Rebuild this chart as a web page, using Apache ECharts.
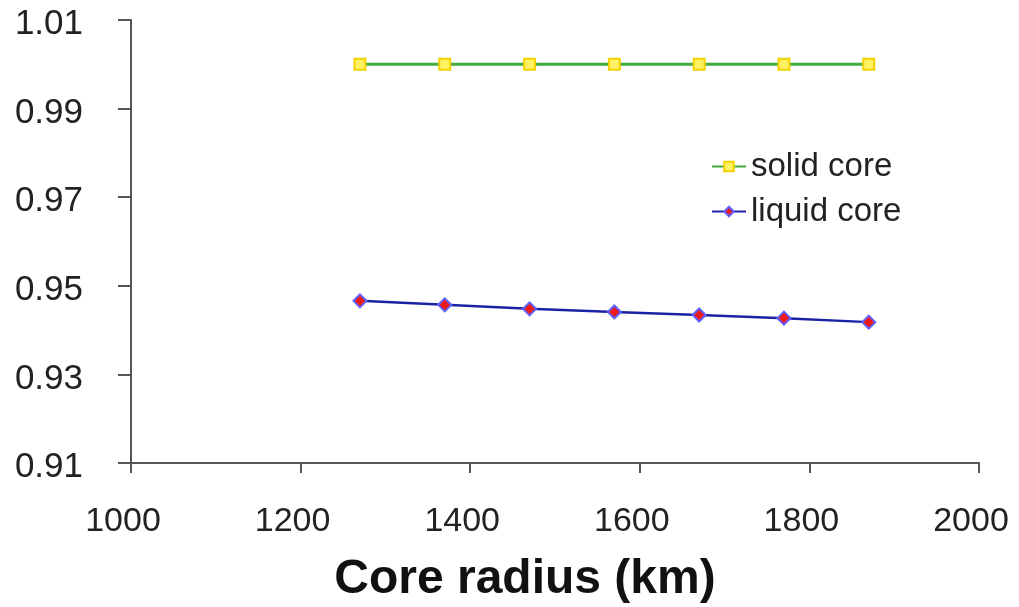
<!DOCTYPE html>
<html><head><meta charset="utf-8">
<script src="https://cdn.jsdelivr.net/npm/echarts@6/dist/echarts.min.js"></script>
<style>html,body{margin:0;padding:0;background:#fff}#c{width:1019px;height:607px}</style>
</head><body><div id="c"></div>
<script>
const radius = [1270, 1370, 1470, 1570, 1670, 1770, 1870];
const solidCore = [1.000, 1.000, 1.000, 1.000, 1.000, 1.000, 1.000];
const liquidCore = [0.9466, 0.9457, 0.9448, 0.9441, 0.9434, 0.9427, 0.9418];
const xTitle = 'Core radius (km)';

const chart = echarts.init(document.getElementById('c'));
const font = 'Liberation Sans, Arial, sans-serif';
chart.setOption({
  animation: false,
  grid: {left: 131, right: 40, top: 20, bottom: 144},
  graphic: [{
    type: 'text', x: 525, y: 556,
    style: {text: xTitle, font: 'bold 48px ' + font, fill: '#111', textAlign: 'center', textVerticalAlign: 'top'}
  }],
  legend: {
    left: 706, top: 145, orient: 'vertical', itemGap: 12,
    itemWidth: 34, itemHeight: 12,
    textStyle: {fontFamily: font, fontSize: 33, color: '#222', padding: [0, 0, 0, 0]},
    data: ['solid core', 'liquid core']
  },
  xAxis: {
    type: 'value', min: 1000, max: 2000, interval: 200,
    axisLine: {onZero: false, lineStyle: {color: '#555', width: 2}},
    axisTick: {show: true, length: 10, lineStyle: {color: '#555', width: 2}},
    axisLabel: {fontFamily: font, fontSize: 34, color: '#222', margin: 42,
      padding: [0, 16, 0, 0], formatter: v => String(v)},
    splitLine: {show: false}
  },
  yAxis: {
    type: 'value', min: 0.91, max: 1.01, interval: 0.02,
    axisLine: {show: true, lineStyle: {color: '#555', width: 2}},
    axisTick: {show: true, length: 13, lineStyle: {color: '#555', width: 2}},
    axisLabel: {fontFamily: font, fontSize: 35, color: '#222', margin: 48,
      formatter: v => '{a|' + v.toFixed(2) + '}',
      rich: {a: {fontFamily: font, fontSize: 35, color: '#222', padding: [9, 0, 0, 0]}}},
    splitLine: {show: false}
  },
  series: [
    {
      name: 'solid core', type: 'line',
      data: radius.map((x, i) => [x, solidCore[i]]),
      lineStyle: {color: '#3fa83f', width: 3},
      itemStyle: {color: '#fff064', borderColor: '#f2d200', borderWidth: 2},
      symbol: 'rect', symbolSize: 11, showAllSymbol: true
    },
    {
      name: 'liquid core', type: 'line',
      data: radius.map((x, i) => [x, liquidCore[i]]),
      lineStyle: {color: '#1c22a6', width: 2.5},
      itemStyle: {color: '#ee1a1a', borderColor: '#6060ff', borderWidth: 2},
      symbol: 'diamond', symbolSize: 13, showAllSymbol: true
    }
  ]
});
</script></body></html>
